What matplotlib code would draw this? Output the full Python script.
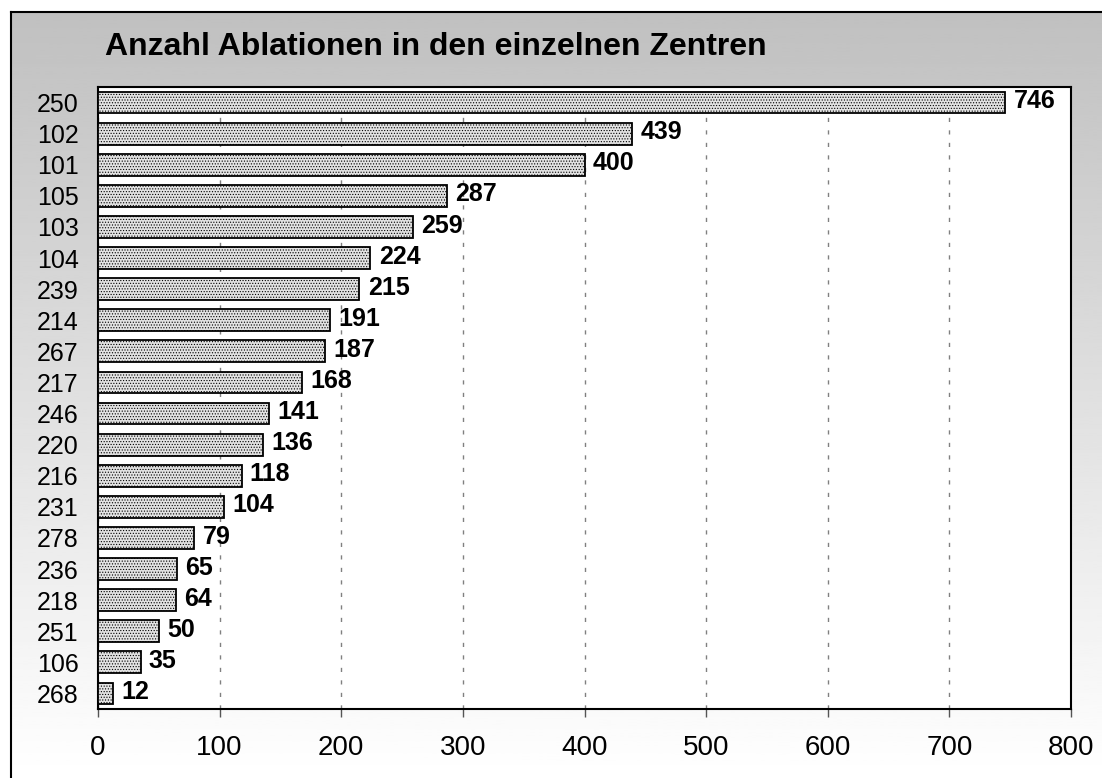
import numpy as np
import matplotlib.pyplot as plt
from matplotlib.lines import Line2D

plt.rcParams['font.family'] = ['Liberation Sans', 'DejaVu Sans']
plt.rcParams['hatch.color'] = '#a8a8a8'
plt.rcParams['hatch.linewidth'] = 0.5

# Zentren (von oben nach unten) und Anzahl Ablationen
zentren = ['250', '102', '101', '105', '103', '104', '239', '214', '267', '217',
           '246', '220', '216', '231', '278', '236', '218', '251', '106', '268']
anzahl = [746, 439, 400, 287, 259, 224, 215, 191, 187, 168,
          141, 136, 118, 104, 79, 65, 64, 50, 35, 12]
xticks = [0, 100, 200, 300, 400, 500, 600, 700, 800]

W, H = 1102, 778
fig = plt.figure(figsize=(W / 100, H / 100), dpi=100)
fig.patch.set_facecolor('white')

# grauer Verlauf als Hintergrund
bg = fig.add_axes([11 / W, 0, 1 - 11 / W, (H - 12) / H], zorder=-10)
grad = np.linspace(0.753, 1.0, 256).reshape(-1, 1)
bg.imshow(grad, cmap='gray', vmin=0, vmax=1, aspect='auto', extent=[0, 1, 0, 1])
bg.set_axis_off()
fig.add_artist(Line2D([11 / W, 11 / W], [0, 1 - 12 / H], color='black', lw=1.5))
fig.add_artist(Line2D([11 / W, 1], [1 - 12 / H, 1 - 12 / H], color='black', lw=1.5))

ax = fig.add_axes([98 / W, 1 - 709 / H, (1071 - 98) / W, (709 - 87) / H])
ax.set_facecolor('white')

y = np.arange(len(zentren))
ax.barh(y, anzahl, height=0.7, color='#e2e2e2', edgecolor='black', linewidth=1.3,
        hatch='......', zorder=3)

for yi, v in zip(y, anzahl):
    ax.annotate(str(v), (v, yi), xytext=(6, 1), textcoords='offset points',
                ha='left', va='center', fontsize=18, fontweight='bold', zorder=4)

ax.set_xlim(0, 800)
ax.set_ylim(len(zentren) - 0.5, -0.5)
ax.set_xticks(xticks)
ax.set_yticks(y)
ax.set_yticklabels(zentren)
ax.tick_params(axis='y', length=0, pad=14, labelsize=18)
for lbl in ax.get_yticklabels():
    lbl.set_y(lbl.get_position()[1])
ax.tick_params(axis='x', direction='out', length=6, width=1, color='#555555',
               pad=13, labelsize=20)
ax.grid(axis='x', color='#808080', linestyle=(0, (3, 6)), linewidth=1, zorder=1)
for s in ax.spines.values():
    s.set_linewidth(1.5)
    s.set_color('black')

fig.text(105 / W, 1 - 47 / H, 'Anzahl Ablationen in den einzelnen Zentren',
         fontsize=23, fontweight='bold', ha='left', va='center')

fig.savefig('out.png', dpi=100)
